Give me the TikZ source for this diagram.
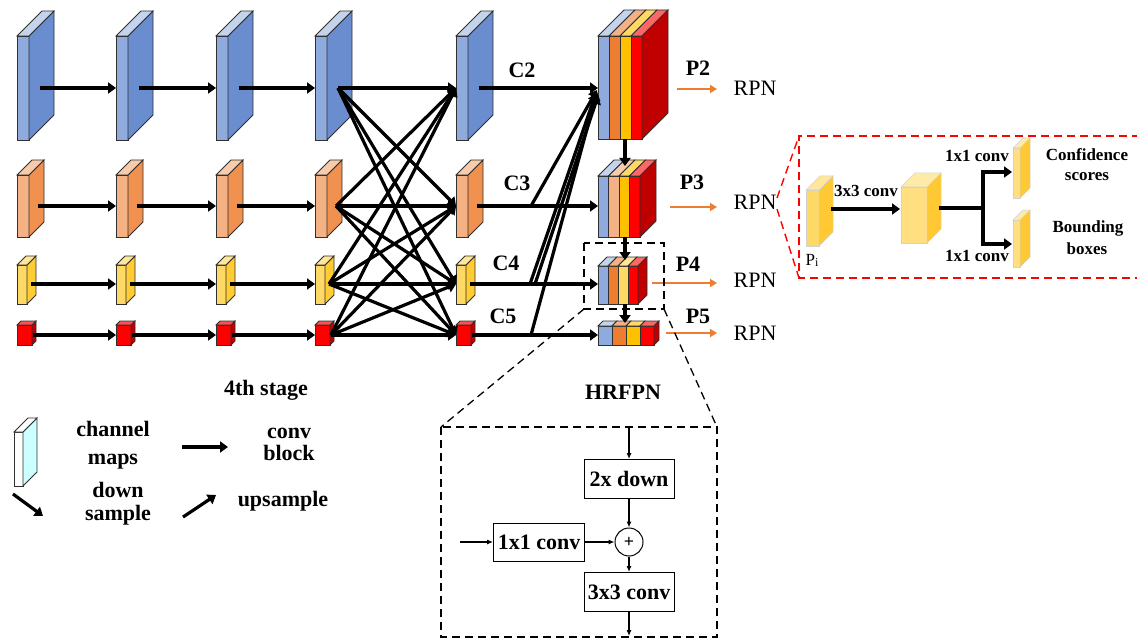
\documentclass[tikz,border=0pt]{standalone}
\usepackage{fontspec}
\setmainfont{Liberation Serif}
\usetikzlibrary{arrows.meta}
\definecolor{bF}{HTML}{8FAADC}
\definecolor{bS}{HTML}{6A8DCF}
\definecolor{bT}{HTML}{C5D4ED}
\definecolor{oF}{HTML}{F4B183}
\definecolor{oS}{HTML}{F0914F}
\definecolor{oT}{HTML}{F8CBAD}
\definecolor{yF}{HTML}{FFD966}
\definecolor{yS}{HTML}{FFCC33}
\definecolor{yT}{HTML}{FFE699}
\definecolor{rF}{HTML}{FF0000}
\definecolor{rS}{HTML}{C00000}
\definecolor{rT}{HTML}{FF5050}
\definecolor{cO}{HTML}{ED7D31}
\definecolor{cY}{HTML}{FFC000}
\definecolor{cRT}{HTML}{FF6666}
\definecolor{edge}{HTML}{303030}
\definecolor{cyanS}{HTML}{CCFFFF}
\definecolor{ySoftF}{HTML}{FFDF80}
\definecolor{ySoftS}{HTML}{FFC933}
\definecolor{ySoftT}{HTML}{FFEBA8}

% x, ytop, ybot, width, depth, front, side, top
\newcommand{\myprism}[8]{%
  \filldraw[blk,fill=#6] (#1,#2) rectangle ({#1+#4},#3);
  \filldraw[blk,fill=#7] ({#1+#4},#2) -- ({#1+#4+#5},{#2-#5}) -- ({#1+#4+#5},{#3-#5}) -- ({#1+#4},#3) -- cycle;
  \filldraw[blk,fill=#8] (#1,#2) -- ({#1+#5},{#2-#5}) -- ({#1+#4+#5},{#2-#5}) -- ({#1+#4},#2) -- cycle;
}
\newcommand{\softprism}[8]{%
  \filldraw[soft,fill=#6] (#1,#2) rectangle ({#1+#4},#3);
  \filldraw[soft,fill=#7] ({#1+#4},#2) -- ({#1+#4+#5},{#2-#5}) -- ({#1+#4+#5},{#3-#5}) -- ({#1+#4},#3) -- cycle;
  \filldraw[soft,fill=#8] (#1,#2) -- ({#1+#5},{#2-#5}) -- ({#1+#4+#5},{#2-#5}) -- ({#1+#4},#2) -- cycle;
}
% x, ytop, ybot, stripe width, depth, list front/top
\newcommand{\catblk}[6]{%
  \foreach \fc/\tc [count=\i from 0] in {#6} {
    \filldraw[blk,fill=\fc] ({#1+\i*#4},#2) rectangle ({#1+(\i+1)*#4},#3);
    \filldraw[blk,fill=\tc] ({#1+\i*#4},#2) -- ({#1+\i*#4+#5},{#2-#5}) -- ({#1+(\i+1)*#4+#5},{#2-#5}) -- ({#1+(\i+1)*#4},#2) -- cycle;
  }
  \filldraw[blk,fill=rS] ({#1+4*#4},#2) -- ({#1+4*#4+#5},{#2-#5}) -- ({#1+4*#4+#5},{#3-#5}) -- ({#1+4*#4},#3) -- cycle;
}

\begin{document}
\begin{tikzpicture}[x=1pt,y=-1pt,
  blk/.style={draw=edge,line width=0.8pt},
  soft/.style={draw=black!18,line width=0.5pt},
  conv/.style={line width=3.2pt,-{Triangle[length=8pt,width=11pt]}},
  thick3/.style={line width=3.2pt},
  thinarr/.style={line width=1.1pt,-{Latex[length=6pt,width=5pt]}},
  oarr/.style={draw=cO,line width=2.8pt,-{Triangle[length=7pt,width=8pt]}},
  lbl/.style={font=\bfseries\fontsize{22}{24}\selectfont,inner sep=0pt,text height=0.68em,text depth=0pt},
  rpn/.style={font=\fontsize{22}{24}\selectfont,inner sep=0pt,text height=0.68em,text depth=0pt},
  small/.style={font=\bfseries\fontsize{17}{19}\selectfont,inner sep=0pt,text height=0.68em,text depth=0pt},
  opbox/.style={draw,line width=1pt,font=\bfseries\fontsize{22}{24}\selectfont,minimum width=90pt,minimum height=39pt,inner sep=1pt},
  bdash/.style={dash pattern=on 8pt off 5pt,line width=1.3pt},
  rdash/.style={draw=red,dash pattern=on 8pt off 5pt,line width=1.4pt}
]
\useasboundingbox (0,0) rectangle (1137,639);

% ---------- feature map columns ----------
\foreach \c/\x in {1/17,2/116,3/216,4/315,5/456}{
  \myprism{\x}{36}{140}{12}{25}{bF}{bS}{bT}
  \myprism{\x}{175}{237}{12}{15}{oF}{oS}{oT}
  \myprism{\x}{265}{304}{10}{9}{yF}{yS}{yT}
  \myprism{\x}{325}{345}{15}{4}{rF}{rS}{rT}
  \coordinate (in-1-\c) at (\x,88);   \coordinate (out-1-\c) at ({\x+23},88);
  \coordinate (in-2-\c) at (\x,206);  \coordinate (out-2-\c) at ({\x+21},206);
  \coordinate (in-3-\c) at (\x,284);  \coordinate (out-3-\c) at ({\x+14},284);
  \coordinate (in-4-\c) at (\x,335);  \coordinate (out-4-\c) at ({\x+16},335);
}
\foreach \r in {1,...,4}{
  \foreach \a/\b in {1/2,2/3,3/4}{
    \draw[conv] (out-\r-\a) -- (in-\r-\b);
  }
}
\foreach \r in {1,...,4}{
  \foreach \s in {1,...,4}{
    \draw[conv] (out-\r-4) -- (in-\s-5);
  }
}

% ---------- concatenated blocks ----------
\catblk{598}{36}{139}{11}{26}{bF/bT,cO/oF,cY/yF,rF/cRT}
\catblk{598}{176}{237}{10.5}{16}{bF/bT,oF/oT,cY/yF,rF/cRT}
\catblk{598}{266}{304}{10}{9}{bF/bT,cO/oF,yF/yT,rF/cRT}
\catblk{598}{326}{345}{14}{5}{bF/bT,cO/oF,cY/yF,rF/cRT}

\coordinate (p2in) at (598,88);
\coordinate (p3in) at (598,206);
\coordinate (p4in) at (598,284);
\coordinate (p5in) at (598,335);
\draw[conv] (out-1-5) -- (p2in);
\draw[conv] (out-2-5) -- (p3in);
\draw[conv] (out-3-5) -- (p4in);
\draw[conv] (out-4-5) -- (p5in);

% upsample branches to P2
\coordinate (j3) at (531,206);
\coordinate (j4a) at (530,284);
\coordinate (j4b) at (535,284);
\coordinate (j5) at (531,335);
\coordinate (u1) at (597,90);
\coordinate (u2) at (596,93);
\coordinate (u3) at (598,96);
\coordinate (u4) at (597,92);
\draw[conv] (j3) -- (u1);
\draw[conv] (j4a) -- (u2);
\draw[conv] (j4b) -- (u3);
\draw[conv] (j5) -- (u4);

% vertical down arrows
\coordinate (p2b) at (625,139); \coordinate (p3t) at (625,166);
\coordinate (p3b) at (625,237); \coordinate (p4t) at (625,260);
\coordinate (p4b) at (625,304); \coordinate (p5t) at (625,323);
\draw[conv] (p2b) -- (p3t);
\draw[conv] (p3b) -- (p4t);
\draw[conv] (p4b) -- (p5t);

% labels C / P
\node[lbl] (C2) at (522,74) {C2};
\node[lbl] (C3) at (517,187) {C3};
\node[lbl] (C4) at (506,267) {C4};
\node[lbl] (C5) at (503,320) {C5};
\node[lbl] (P2) at (698,72) {P2};
\node[lbl] (P3) at (692,186) {P3};
\node[lbl] (P4) at (688,268) {P4};
\node[lbl] (P5) at (698,320) {P5};

% orange arrows and RPN
\node[rpn] (rpn2) at (755,92) {RPN};
\node[rpn] (rpn3) at (755,206) {RPN};
\node[rpn] (rpn4) at (755,284) {RPN};
\node[rpn] (rpn5) at (755,337) {RPN};
\coordinate (o2s) at (677,89);  \coordinate (o2e) at (717,89);
\coordinate (o3s) at (670,207); \coordinate (o3e) at (717,207);
\coordinate (o4s) at (652,283); \coordinate (o4e) at (717,283);
\coordinate (o5s) at (666,333); \coordinate (o5e) at (717,333);
\draw[oarr] (o2s) -- (o2e);
\draw[oarr] (o3s) -- (o3e);
\draw[oarr] (o4s) -- (o4e);
\draw[oarr] (o5s) -- (o5e);

% ---------- HRFPN zoom ----------
\draw[bdash] (584,243) rectangle (664,309);
\coordinate (zb1) at (584,309);
\coordinate (zb2) at (664,309);
\draw[bdash] (441,427) rectangle (717,637);
\coordinate (hb1) at (441,427);
\coordinate (hb2) at (717,427);
\draw[bdash] (zb1) -- (hb1);
\draw[bdash] (zb2) -- (hb2);
\node[lbl] (hrfpn) at (623,396) {HRFPN};

\node[opbox] (down) at (629,479) {2x down};
\node[opbox,minimum width=91pt,minimum height=38pt] (c11) at (539,542) {1x1 conv};
\node[draw,circle,minimum size=28pt,inner sep=0pt,line width=1pt,font=\bfseries\fontsize{18}{18}\selectfont] (plus) at (629,542) {+};
\node[opbox] (c33) at (629,592) {3x3 conv};
\coordinate (hin) at (629,428);
\coordinate (lin) at (460,542);
\coordinate (hout) at (629,636);
\draw[thinarr] (hin) -- (down.north);
\draw[thinarr] (down.south) -- (plus.north);
\draw[thinarr] (lin) -- (c11.west);
\draw[thinarr] (c11.east) -- (plus.west);
\draw[thinarr] (plus.south) -- (c33.north);
\draw[thinarr] (c33.south) -- (hout);

% ---------- legend ----------
\node[lbl] (stage) at (266,392) {4th stage};
\myprism{14}{432}{486}{9}{14}{white}{cyanS}{white}
\node[lbl] (chan) at (113,433) {channel};
\node[lbl] (maps) at (113,461) {maps};
\coordinate (lg1s) at (182,447); \coordinate (lg1e) at (228,447);
\draw[conv] (lg1s) -- (lg1e);
\node[lbl] (conv) at (289,435) {conv};
\node[lbl] (block) at (289,457) {block};
\coordinate (lg2s) at (13,494); \coordinate (lg2e) at (43,516);
\draw[conv] (lg2s) -- (lg2e);
\node[lbl] (down1) at (118,494) {down};
\node[lbl] (samp) at (118,517) {sample};
\coordinate (lg3s) at (183,517); \coordinate (lg3e) at (216,495);
\draw[conv] (lg3s) -- (lg3e);
\node[lbl] (ups) at (283,503) {upsample};

% ---------- RPN detail (red dashed) ----------
\coordinate (rd1) at (777,198);
\coordinate (rd2) at (777,209);
\coordinate (rtl) at (799,136);
\coordinate (rbl) at (799,278);
\coordinate (rtr) at (1140,136);
\coordinate (rbr) at (1140,278);
\draw[rdash] (rd1) -- (rtl);
\draw[rdash] (rd2) -- (rbl);
\draw[rdash] (rtr) -- (rtl) -- (rbl) -- (rbr);

\softprism{806}{190}{246}{13}{14}{yF}{ySoftS}{yT}
\node[small,font=\fontsize{17}{19}\selectfont] (pi) at (812,262) {P\raisebox{-1.5pt}{\fontsize{12}{12}\selectfont i}};
\coordinate (pio) at (831,209);
\coordinate (mi) at (900,209);
\draw[conv] (pio) -- (mi);
\node[small] (l33) at (866,193) {3x3 conv};
\softprism{901}{187}{243}{26}{14}{ySoftF}{ySoftS}{ySoftT}
\coordinate (mo) at (939,208);
\coordinate (jn) at (983,208);
\coordinate (s1in) at (1012,172);
\coordinate (s2in) at (1012,244);
\draw[thick3] (mo) -- (jn);
\draw[conv] (jn) |- (s1in);
\draw[conv] (jn) |- (s2in);
\softprism{1013}{148}{198}{7}{10}{ySoftF}{ySoftS}{ySoftT}
\softprism{1013}{220}{267}{7}{10}{ySoftF}{ySoftS}{ySoftT}
\node[small] (l11a) at (977,158) {1x1 conv};
\node[small] (l11b) at (977,258) {1x1 conv};
\node[small] (conf) at (1087,157) {Confidence};
\node[small] (scor) at (1087,177) {scores};
\node[small] (boun) at (1088,229) {Bounding};
\node[small] (boxs) at (1087,251) {boxes};
\end{tikzpicture}
\end{document}
